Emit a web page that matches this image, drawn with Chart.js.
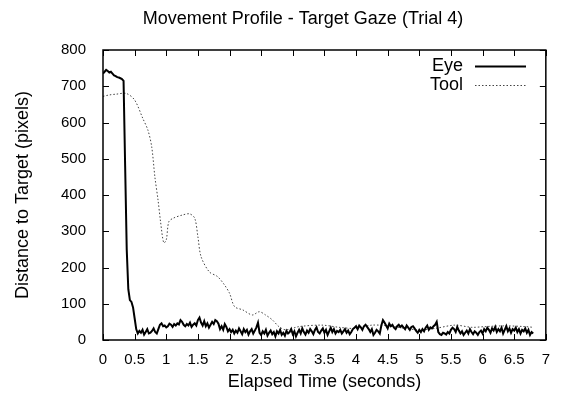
<!DOCTYPE html>
<html>
<head>
<meta charset="utf-8">
<script src="https://cdn.jsdelivr.net/npm/chart.js@4"></script>
<style>
  html, body { margin: 0; padding: 0; background: #fff; }
  #wrap { width: 561px; height: 397px; }
</style>
</head>
<body>
<div id="wrap"><canvas id="profileChart" width="561" height="397"></canvas></div>
<script>
// eye samples every 0.025 s starting at 0
const eyeStep = 0.025;
const eyeDist = [
  735, 740, 745, 742, 738, 740, 735, 730, 728, 725,
  724, 722, 720, 715, 480, 250, 140, 110, 105, 90,
  60, 30, 18, 25, 20, 28, 15, 22, 30, 18,
  20, 25, 32, 22, 18, 30, 42, 46, 38, 40,
  35, 38, 45, 42, 36, 44, 40, 46, 43, 55,
  50, 42, 38, 44, 40, 48, 36, 42, 46, 40,
  55, 62, 48, 40, 52, 38, 46, 34, 42, 50,
  44, 55, 52, 45, 30, 38, 28, 44, 36, 24,
  30, 22, 28, 18, 26, 20, 32, 24, 16, 30,
  22, 28, 15, 24, 30, 18, 26, 35, 48, 20,
  14, 24, 18, 28, 12, 20, 26, 16, 22, 10,
  24, 18, 28, 14, 20, 12, 25, 18, 22, 30,
  16, 24, 10, 20, 28, 18, 32, 22, 15, 26,
  20, 30, 24, 16, 28, 35, 22, 18, 26, 32,
  20, 28, 14, 24, 34, 22, 30, 18, 25, 22,
  28, 18, 24, 30, 20, 26, 16, 22, 30, 34,
  38, 30, 40, 35, 28, 38, 42, 36, 30, 22,
  30, 14, 20, 28, 24, 18, 40, 55, 48, 40,
  32, 45, 38, 42, 34, 30, 38, 42, 36, 40,
  35, 30, 40, 34, 28, 36, 38, 32, 25, 20,
  28, 22, 30, 24, 34, 40, 28, 35, 32, 38,
  42, 50, 22, 16, 14, 20, 18, 15, 22, 18,
  28, 34, 30, 22, 36, 26, 18, 24, 14, 20,
  26, 18, 30, 22, 16, 24, 20, 14, 22, 26,
  18, 30, 24, 34, 28, 20, 32, 26, 36, 22,
  30, 24, 34, 18, 28, 38, 24, 32, 20, 30,
  26, 34, 22, 30, 18, 28, 24, 32, 20, 28,
  14, 22, 18
];

const toolTime = [0, 0.1, 0.2, 0.37, 0.5, 0.63, 0.71, 0.77, 0.82, 0.87, 0.91, 0.96, 1.0, 1.04,
  1.11, 1.26, 1.37, 1.45, 1.5, 1.55, 1.68, 1.81, 1.92, 2.0, 2.08, 2.21, 2.36, 2.47, 2.57,
  2.68, 2.78, 2.89, 3.1, 3.46, 3.73, 3.99, 4.25, 4.51, 4.78, 4.99, 5.25, 5.56, 5.83, 6.04,
  6.35, 6.67, 6.8];
const toolDist = [672, 676, 678, 680, 662, 611, 579, 533, 450, 386, 326, 268, 276, 326,
  336, 345, 348, 336, 285, 230, 188, 175, 152, 129, 92, 83, 69, 78, 69,
  55, 37, 28, 37, 41, 35, 32, 41, 39, 32, 28, 32, 41, 35, 37,
  39, 37, 35];

const xTicks = [0, 0.5, 1, 1.5, 2, 2.5, 3, 3.5, 4, 4.5, 5, 5.5, 6, 6.5, 7];
const yTicks = [0, 100, 200, 300, 400, 500, 600, 700, 800];

const chartTitle = 'Movement Profile - Target Gaze (Trial 4)';
const xTitle = 'Elapsed Time (seconds)';
const yTitle = 'Distance to Target (pixels)';

const eyePoints = eyeDist.map((v, i) => ({ x: +(i * eyeStep).toFixed(3), y: v }));
const toolPoints = toolDist.map((v, i) => ({ x: toolTime[i], y: v }));

const FONT = '"Liberation Sans", Arial, Helvetica, sans-serif';

// gnuplot look: box on four sides, inward ticks, titles and legend inside
const framePlugin = {
  id: 'frame',
  afterDatasetsDraw(chart) {
    const { ctx, chartArea: a, scales } = chart;
    ctx.save();
    ctx.strokeStyle = '#000';
    ctx.lineWidth = 1;
    ctx.beginPath();
    xTicks.forEach((t) => {
      const px = Math.round(scales.x.getPixelForValue(t)) + 0.5;
      ctx.moveTo(px, a.bottom); ctx.lineTo(px, a.bottom - 6);
      ctx.moveTo(px, a.top); ctx.lineTo(px, a.top + 6);
    });
    yTicks.forEach((t) => {
      const py = Math.round(scales.y.getPixelForValue(t)) + 0.5;
      ctx.moveTo(a.left, py); ctx.lineTo(a.left + 6, py);
      ctx.moveTo(a.right, py); ctx.lineTo(a.right - 6, py);
    });
    ctx.stroke();
    ctx.lineWidth = 1.5;
    ctx.strokeRect(a.left, a.top, a.right - a.left, a.bottom - a.top);

    ctx.fillStyle = '#000';
    ctx.font = '18px ' + FONT;
    ctx.textAlign = 'center';
    ctx.textBaseline = 'middle';
    ctx.fillText(chartTitle, 303, 19);
    ctx.fillText(xTitle, (a.left + a.right) / 2, 382);
    ctx.save();
    ctx.translate(23, (a.top + a.bottom) / 2);
    ctx.rotate(-Math.PI / 2);
    ctx.fillText(yTitle, 0, 0);
    ctx.restore();

    // legend
    ctx.textAlign = 'right';
    chart.data.datasets.forEach((ds, i) => {
      const y = 66 + i * 19;
      ctx.fillText(ds.label, 463, y);
      ctx.beginPath();
      ctx.strokeStyle = ds.borderColor;
      ctx.lineWidth = ds.borderWidth;
      ctx.setLineDash(ds.borderDash || []);
      ctx.moveTo(475, y + 0.5);
      ctx.lineTo(526, y + 0.5);
      ctx.stroke();
      ctx.setLineDash([]);
    });
    ctx.restore();
  }
};

new Chart(document.getElementById('profileChart'), {
  type: 'line',
  data: {
    datasets: [
      { label: 'Eye', data: eyePoints, borderColor: '#000', borderWidth: 2,
        pointRadius: 0, tension: 0, fill: false },
      { label: 'Tool', data: toolPoints, borderColor: '#444', borderWidth: 1,
        borderDash: [1.5, 2], pointRadius: 0, tension: 0.3, fill: false }
    ]
  },
  options: {
    responsive: false,
    animation: false,
    devicePixelRatio: 1,
    layout: { padding: { top: 50, right: 13, left: 0, bottom: 0 } },
    plugins: { legend: { display: false }, title: { display: false }, tooltip: { enabled: false } },
    scales: {
      x: {
        type: 'linear', min: 0, max: 7,
        afterBuildTicks: (s) => { s.ticks = xTicks.map((v) => ({ value: v })); },
        afterFit: (s) => { s.height = 57; },
        grid: { display: false, drawTicks: false },
        border: { display: false },
        ticks: { color: '#000', padding: 11, maxRotation: 0, autoSkip: false,
          callback: (v) => String(v),
          font: { family: FONT, size: 15 } }
      },
      y: {
        type: 'linear', min: 0, max: 800,
        afterBuildTicks: (s) => { s.ticks = yTicks.map((v) => ({ value: v })); },
        afterFit: (s) => { s.width = 103; },
        grid: { display: false, drawTicks: false },
        border: { display: false },
        ticks: { color: '#000', padding: 17, callback: (v) => String(v),
          font: { family: FONT, size: 15 } }
      }
    }
  },
  plugins: [framePlugin]
});
</script>
</body>
</html>
